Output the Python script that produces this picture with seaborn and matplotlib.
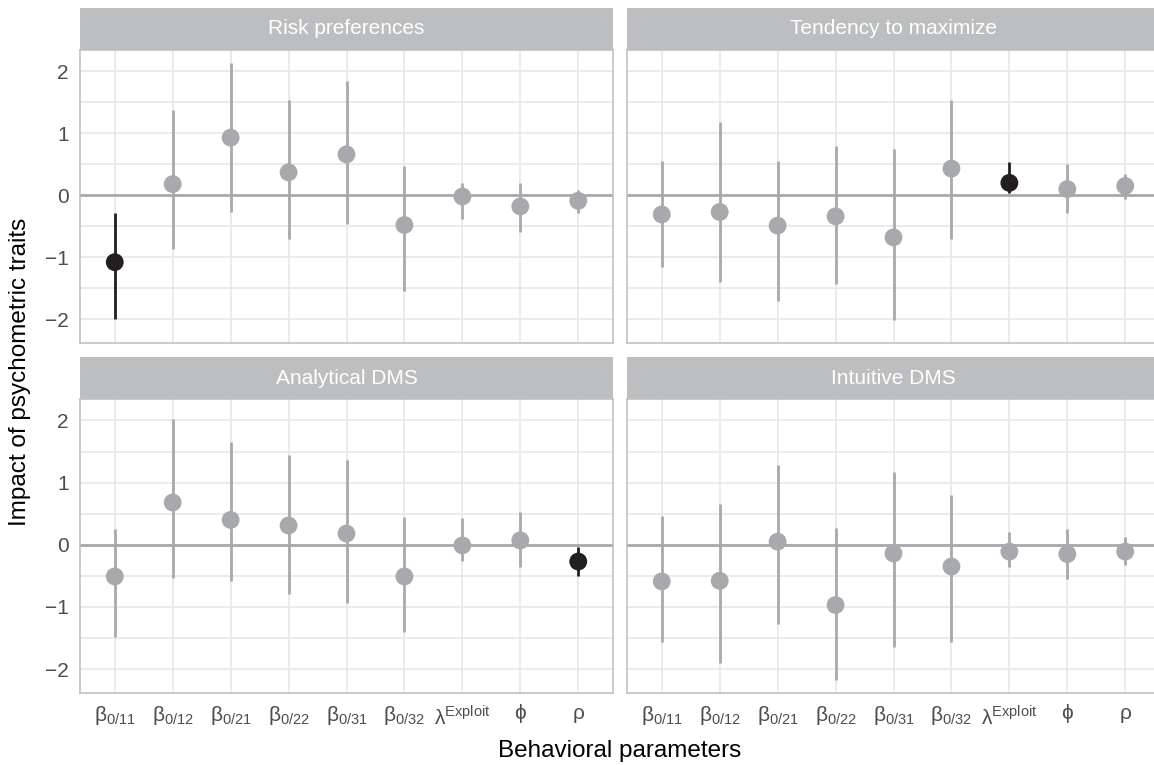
import matplotlib.pyplot as plt
import numpy as np
import pandas as pd
import seaborn as sns

traits = ["Risk preferences", "Tendency to maximize", "Analytical DMS", "Intuitive DMS"]
params = [r"β$_{\mathregular{0/11}}$", r"β$_{\mathregular{0/12}}$", r"β$_{\mathregular{0/21}}$",
          r"β$_{\mathregular{0/22}}$", r"β$_{\mathregular{0/31}}$", r"β$_{\mathregular{0/32}}$",
          r"λ$^{\mathregular{Exploit}}$", "ϕ", "ρ"]

risk_est = [-1.08, 0.18, 0.93, 0.37, 0.66, -0.48, -0.02, -0.18, -0.09]
risk_lo = [-1.99, -0.87, -0.27, -0.70, -0.47, -1.54, -0.39, -0.60, -0.29]
risk_hi = [-0.28, 1.38, 2.13, 1.53, 1.85, 0.47, 0.19, 0.20, 0.09]
risk_sig = [1, 0, 0, 0, 0, 0, 0, 0, 0]

max_est = [-0.31, -0.27, -0.49, -0.34, -0.68, 0.43, 0.20, 0.10, 0.15]
max_lo = [-1.16, -1.40, -1.70, -1.43, -2.01, -0.70, 0.03, -0.28, -0.06]
max_hi = [0.56, 1.18, 0.56, 0.79, 0.74, 1.54, 0.54, 0.50, 0.35]
max_sig = [0, 0, 0, 0, 0, 0, 1, 0, 0]

ana_est = [-0.51, 0.68, 0.40, 0.31, 0.18, -0.51, -0.01, 0.07, -0.27]
ana_lo = [-1.49, -0.53, -0.59, -0.80, -0.93, -1.40, -0.26, -0.35, -0.51]
ana_hi = [0.26, 2.03, 1.65, 1.44, 1.37, 0.44, 0.43, 0.52, -0.03]
ana_sig = [0, 0, 0, 0, 0, 0, 0, 0, 1]

int_est = [-0.59, -0.58, 0.05, -0.97, -0.14, -0.35, -0.11, -0.15, -0.11]
int_lo = [-1.56, -1.90, -1.27, -2.17, -1.65, -1.57, -0.36, -0.55, -0.33]
int_hi = [0.46, 0.66, 1.28, 0.27, 1.17, 0.80, 0.20, 0.25, 0.12]
int_sig = [0, 0, 0, 0, 0, 0, 0, 0, 0]

gray = "#A7A9AC"
black = "#231F20"
border = "#BDBDBD"
gridc = "#E8E8E8"

frames = []
for trait, est, lo, hi, sig in zip(traits,
                                   [risk_est, max_est, ana_est, int_est],
                                   [risk_lo, max_lo, ana_lo, int_lo],
                                   [risk_hi, max_hi, ana_hi, int_hi],
                                   [risk_sig, max_sig, ana_sig, int_sig]):
    frames.append(pd.DataFrame({"trait": trait, "param": params, "pos": np.arange(len(params)),
                                "est": est, "lo": lo, "hi": hi, "sig": sig}))
df = pd.concat(frames, ignore_index=True)

sns.set_theme(style="white")
plt.rcParams["font.family"] = ["Liberation Sans", "DejaVu Sans"]
plt.rcParams["axes.unicode_minus"] = True


def draw_panel(data, **kws):
    ax = plt.gca()
    ax.axhline(0, color=gray, lw=2.0, zorder=1.5)
    cols = np.where(data["sig"] == 1, black, gray)
    ax.vlines(data["pos"], data["lo"], data["hi"], colors=cols, lw=2.0, zorder=2)
    sns.scatterplot(data=data, x="pos", y="est", hue="sig", palette={0: gray, 1: black},
                    hue_order=[0, 1], s=165, linewidth=0, legend=False, ax=ax, zorder=3)


g = sns.FacetGrid(df, col="trait", col_order=traits, col_wrap=2, sharex=True, sharey=True,
                  height=3.5, aspect=1.5, despine=False)
g.map_dataframe(draw_panel)
g.set_axis_labels("", "")
g.set_titles("")

fig = g.figure
fig.set_size_inches(11.54, 7.65)
W, H = 1154, 765
lefts = [80, 627, 80, 627]
tops = [50, 50, 399, 399]
bottoms = [343, 343, 693, 693]

for i, ax in enumerate(g.axes.flat):
    x0, t, b = lefts[i], tops[i], bottoms[i]
    ax.set_position([x0 / W, 1 - b / H, 533 / W, (b - t) / H])
    ax.set_xlim(-0.6, 8.6)
    ax.set_ylim(-2.385, 2.345)
    ax.set_xticks(np.arange(len(params)))
    ax.set_xticklabels(params)
    ax.set_yticks([-2, -1, 0, 1, 2])
    ax.set_yticks([-1.5, -0.5, 0.5, 1.5], minor=True)
    ax.grid(True, which="major", color=gridc, lw=1.2, zorder=0)
    ax.grid(True, which="minor", axis="y", color=gridc, lw=1.2, zorder=0)
    ax.set_axisbelow(True)
    for sp in ax.spines.values():
        sp.set_color(border)
        sp.set_linewidth(1.1)
    ax.tick_params(axis="both", which="minor", length=0)
    ax.tick_params(axis="both", which="major", length=5, width=1.0, color=border,
                   labelsize=15, labelcolor="#4D4D4D", pad=3)
    if i % 2 == 1:
        ax.tick_params(axis="y", which="major", length=0)
    if i < 2:
        ax.tick_params(axis="x", which="major", length=0)

    sax = fig.add_axes([x0 / W, 1 - t / H, 533 / W, 42 / H])
    sax.set_facecolor("#BDBEC0")
    sax.set_xticks([])
    sax.set_yticks([])
    for sp in sax.spines.values():
        sp.set_visible(False)
    sax.text(0.5, 0.5, traits[i], color="white", fontsize=15, ha="center", va="center",
             transform=sax.transAxes)

fig.text(620 / W, 1 - 757 / H, "Behavioral parameters", fontsize=17.5, ha="center",
         va="baseline", color="black")
fig.text(20 / W, 1 - 371.5 / H, "Impact of psychometric traits", fontsize=17.5, ha="center",
         va="center", rotation=90, color="black")

fig.savefig("out.png", dpi=100)
